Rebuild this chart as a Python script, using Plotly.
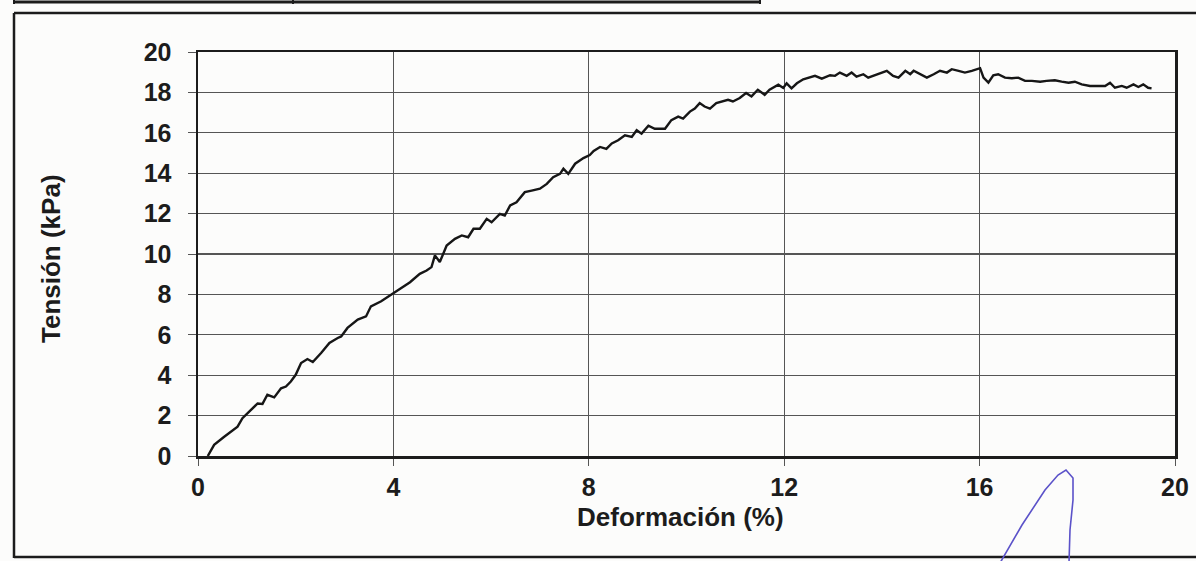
import plotly.graph_objects as go

# ---- data ----
deformacion = [
    0.2, 0.33, 0.53, 0.67, 0.81, 0.91, 1.05, 1.22, 1.32, 1.42, 1.56, 1.70, 1.80, 1.90, 2.0,
    2.11, 2.24, 2.35, 2.52, 2.69, 2.86, 2.93, 3.06, 3.27, 3.44, 3.54, 3.75, 4.0,
    4.13, 4.34, 4.54, 4.68, 4.78, 4.85, 4.95, 5.09, 5.26, 5.40, 5.53, 5.64, 5.77, 5.91, 6.01,
    6.18, 6.28, 6.39, 6.52, 6.69, 6.83, 7.0, 7.14, 7.27, 7.41, 7.48, 7.58, 7.72, 7.89, 8.02,
    8.1, 8.23, 8.36, 8.47, 8.60, 8.74, 8.88, 8.98, 9.08, 9.22, 9.35, 9.56, 9.69, 9.83, 9.93,
    10.07, 10.17, 10.27, 10.37, 10.48, 10.61, 10.72, 10.85, 10.95, 11.09, 11.22, 11.33, 11.46,
    11.60, 11.70, 11.88, 11.98,
    12.05, 12.15, 12.26, 12.39, 12.53, 12.63, 12.77, 12.94, 13.04, 13.14, 13.28, 13.38, 13.48,
    13.62, 13.72, 13.86, 13.99, 14.10, 14.23, 14.34, 14.48, 14.58, 14.65, 14.79, 14.92, 15.06,
    15.19, 15.33, 15.43, 15.57, 15.70, 15.84, 15.97, 16.01,
    16.08, 16.18, 16.28, 16.38, 16.52, 16.66, 16.79, 16.93, 17.07, 17.24, 17.37, 17.54, 17.68,
    17.82, 17.95, 18.09, 18.26, 18.43, 18.57, 18.67, 18.77, 18.91, 19.01, 19.15, 19.25, 19.35,
    19.45, 19.52,
]
tension = [
    0.0, 0.55, 0.94, 1.2, 1.45, 1.87, 2.2, 2.6, 2.58, 3.03, 2.9, 3.35, 3.44, 3.69, 4.02,
    4.6, 4.8, 4.65, 5.1, 5.6, 5.84, 5.92, 6.34, 6.75, 6.91, 7.41, 7.66, 8.05,
    8.28, 8.6, 9.02, 9.18, 9.35, 9.93, 9.6, 10.42, 10.75, 10.92, 10.83, 11.25, 11.25, 11.74, 11.57,
    11.99, 11.9, 12.4, 12.56, 13.06, 13.14, 13.23, 13.47, 13.8, 13.97, 14.22, 13.97, 14.47, 14.75, 14.9,
    15.1, 15.3, 15.2, 15.47, 15.63, 15.88, 15.8, 16.13, 15.96, 16.35, 16.2, 16.2, 16.63, 16.8, 16.7,
    17.05, 17.2, 17.47, 17.3, 17.2, 17.47, 17.55, 17.63, 17.55, 17.72, 17.97, 17.8, 18.13,
    17.88, 18.13, 18.38, 18.22,
    18.45, 18.2, 18.45, 18.65, 18.73, 18.82, 18.68, 18.85, 18.82, 18.98, 18.82, 18.98, 18.78,
    18.9, 18.73, 18.85, 18.98, 19.07, 18.82, 18.73, 19.07, 18.9, 19.07, 18.9, 18.73, 18.9,
    19.07, 18.98, 19.15, 19.07, 18.98, 19.07, 19.15, 19.2,
    18.73, 18.48, 18.85, 18.9, 18.73, 18.7, 18.73, 18.57, 18.57, 18.53, 18.57, 18.6, 18.53,
    18.48, 18.53, 18.4, 18.32, 18.32, 18.32, 18.48, 18.23, 18.32, 18.23, 18.4, 18.27, 18.4,
    18.23, 18.2,
]
x_ticks = [0, 4, 8, 12, 16, 20]
y_ticks = [0, 2, 4, 6, 8, 10, 12, 14, 16, 18, 20]
x_title = "Deformación (%)"
y_title = "Tensión (kPa)"

# ---- layout geometry (pixels) ----
W, H = 1196, 561
L, R, T, B = 198, 1175, 52, 456
PW, PH = R - L, B - T


def px(xp):
    return (xp - L) / PW


def py(yp):
    return (B - yp) / PH


FONT = "Liberation Sans, Arial, sans-serif"
ink = "#1c1c1c"
tickfont = dict(family=FONT, size=25, color=ink, weight="bold")

fig = go.Figure()
fig.add_trace(go.Scatter(
    x=deformacion, y=tension, mode="lines",
    line=dict(color="#161616", width=2.4),
    showlegend=False, hoverinfo="skip",
))

axis_common = dict(
    showline=True, linecolor=ink, linewidth=2.5, mirror=True,
    showgrid=True, gridcolor="#555555", gridwidth=1.2,
    zeroline=False, ticks="outside", tickcolor="#555", tickwidth=1,
    tickfont=tickfont, range=[0, 20], fixedrange=True,
)
fig.update_xaxes(**axis_common, tickvals=x_ticks, ticktext=[str(v) for v in x_ticks],
                 ticklen=7, ticklabelstandoff=0)
fig.update_yaxes(**axis_common, tickvals=y_ticks, ticktext=[str(v) for v in y_ticks],
                 ticklen=8, ticklabelstandoff=11)

shapes = []
# outer frame of the scanned report
shapes.append(dict(type="line", xref="paper", yref="paper", x0=px(14), x1=px(14), y0=py(13), y1=py(558),
                   line=dict(color=ink, width=2.5)))
shapes.append(dict(type="line", xref="paper", yref="paper", x0=px(14), x1=px(1200), y0=py(13), y1=py(13),
                   line=dict(color=ink, width=2.5)))
shapes.append(dict(type="line", xref="paper", yref="paper", x0=px(14), x1=px(1200), y0=py(557), y1=py(557),
                   line=dict(color=ink, width=2.5)))
# fragment of the box above
shapes.append(dict(type="line", xref="paper", yref="paper", x0=px(14), x1=px(760), y0=py(2), y1=py(2),
                   line=dict(color=ink, width=3)))
for xv in (14, 293, 760):
    shapes.append(dict(type="line", xref="paper", yref="paper", x0=px(xv), x1=px(xv), y0=py(-2), y1=py(4),
                       line=dict(color=ink, width=2)))
# pen mark
pen = [(1000, 563), (1022, 525), (1045, 490), (1058, 475), (1066, 470), (1073, 478), (1073, 500),
       (1070, 530), (1069, 563)]
path = "M " + " L ".join(f"{px(a):.5f},{py(b):.5f}" for a, b in pen)
shapes.append(dict(type="path", xref="paper", yref="paper", path=path,
                   line=dict(color="#5b52c9", width=1.6)))

annotations = [
    dict(text=y_title, xref="paper", yref="paper", x=px(51), y=py(259), textangle=-90,
         showarrow=False, xanchor="center", yanchor="middle",
         font=dict(family=FONT, size=26, color=ink, weight="bold")),
    dict(text=x_title, xref="paper", yref="paper", x=px(680), y=py(517),
         showarrow=False, xanchor="center", yanchor="middle",
         font=dict(family=FONT, size=26, color=ink, weight="bold")),
]

fig.update_layout(
    width=W, height=H,
    margin=dict(l=L, r=W - R, t=T, b=H - B, autoexpand=False),
    paper_bgcolor="#fcfcfb", plot_bgcolor="#fcfcfb",
    shapes=shapes, annotations=annotations,
)

fig.write_html("out.html", config={"displayModeBar": False, "staticPlot": True},
               post_script="document.body.style.margin='0px';document.body.style.overflow='hidden';")
